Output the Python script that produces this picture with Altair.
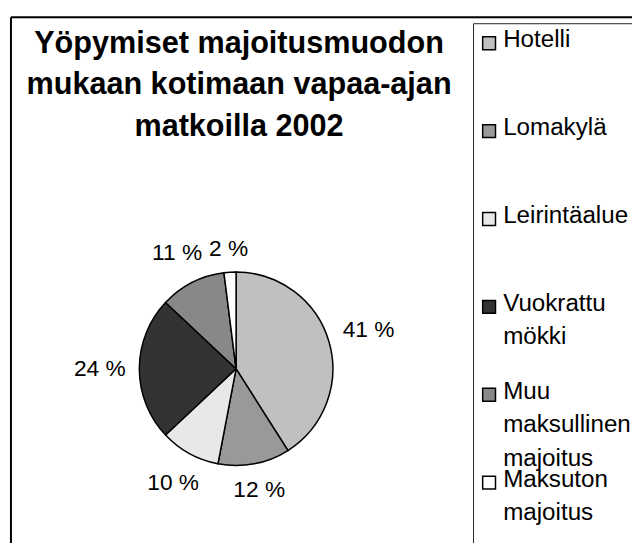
import altair as alt
import pandas as pd

categories = ["Hotelli", "Lomakylä", "Leirintäalue", "Vuokrattu mökki",
              "Muu maksullinen majoitus", "Maksuton majoitus"]
shares = [41, 12, 10, 24, 11, 2]
colors = ["#c0c0c0", "#999999", "#e8e8e8", "#333333", "#888888", "#ffffff"]
title_lines = ["Yöpymiset majoitusmuodon", "mukaan kotimaan vapaa-ajan", "matkoilla 2002"]

df = pd.DataFrame({
    "kategoria": categories,
    "osuus": shares,
    "jarjestys": list(range(len(categories))),
})

FONT = "Arial, Liberation Sans, sans-serif"
W, H = 680, 600
R = 98
CX, CY = 228, 356

pie = alt.Chart(df).mark_arc(outerRadius=R, stroke="black", strokeWidth=1.5).encode(
    theta=alt.Theta("osuus:Q", stack=True),
    order=alt.Order("jarjestys:O"),
    x=alt.value(CX),
    y=alt.value(CY),
    color=alt.Color(
        "kategoria:N",
        scale=alt.Scale(domain=categories, range=colors),
        legend=alt.Legend(
            orient="none", legendX=468, legendY=6, title=None, direction="vertical",
            symbolType="square", symbolSize=169, symbolStrokeColor="black",
            symbolStrokeWidth=1.5, symbolOpacity=1, symbolOffset=-4,
            labelFont=FONT, labelFontSize=24.5, labelColor="black", labelOffset=2,
            labelBaseline="alphabetic", labelLimit=400,
            labelExpr="slice(split(datum.label + '  ', ' '), 0, 3)",
            rowPadding=-8, padding=8, strokeColor="#222222",
        ),
    ),
)

labels = alt.Chart(df).transform_window(
    cum="sum(osuus)", sort=[alt.SortField("jarjestys")]
).transform_calculate(
    mid="(datum.cum - datum.osuus / 2) / 100 * 2 * PI",
    r=f"{R} + 12 + 28 * abs(sin(datum.mid)) + 10 * abs(cos(datum.mid))",
    teksti="datum.osuus + ' %'",
).mark_text(font=FONT, fontSize=23, color="black", baseline="middle", align="center").encode(
    theta=alt.Theta("mid:Q", scale=None),
    radius=alt.Radius("r:Q", scale=None),
    x=alt.value(CX),
    y=alt.value(CY),
    text="teksti:N",
)

edge_df = pd.DataFrame({"reuna": ["ylä"]})
top_edge = alt.Chart(edge_df).mark_rule(color="black", strokeWidth=2).encode(
    x=alt.value(0), x2=alt.value(W), y=alt.value(0)
)
left_edge = alt.Chart(edge_df).mark_rule(color="black", strokeWidth=2).encode(
    x=alt.value(0), y=alt.value(0), y2=alt.value(H)
)

chart = alt.layer(top_edge, left_edge, pie, labels).properties(
    width=W,
    height=H,
    title=alt.Title(
        text=title_lines, font=FONT, fontSize=31, fontWeight="bold", color="black",
        anchor="start", align="center", dx=232, baseline="top", offset=-128,
        lineHeight=42, orient="top",
    ),
    autosize=alt.AutoSizeParams(type="none"),
    padding={"left": 3, "top": 6, "right": -51, "bottom": -71},
).configure_view(strokeWidth=0).configure_legend(
    strokeWidth=1
).configure(style={"guide-label": {"lineHeight": 34, "dy": 4}})

chart.save("out.html", embed_options={"renderer": "svg", "actions": False})
